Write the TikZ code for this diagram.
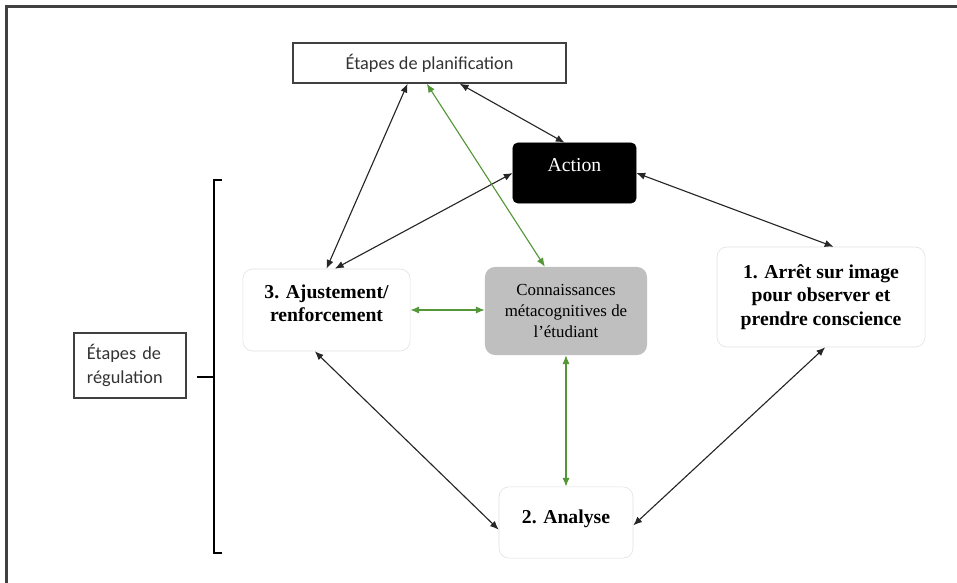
\documentclass[tikz,border=0pt]{standalone}
\usepackage{xcolor}
\usepackage{fontspec}
\setmainfont{Liberation Serif}
\newfontfamily\carlito{Carlito}
\usepackage{tikz}
\usetikzlibrary{arrows.meta, positioning, calc}

\definecolor{arrowgreen}{RGB}{84,150,56}
\definecolor{boxgray}{RGB}{191,191,191}
\definecolor{framegray}{RGB}{64,64,64}

\begin{document}
\begin{tikzpicture}[
    x=0.025cm, y=-0.025cm,
    plain/.style={rectangle, draw=framegray, line width=1pt, fill=white, text=black!80, font=\carlito\fontsize{13}{16}\selectfont},
    stepbox/.style={rectangle, draw=black!12, fill=white, rounded corners=0.25cm, align=center, font=\bfseries\fontsize{14}{16.5}\selectfont},
    actionbox/.style={rectangle, draw=black, fill=black, rounded corners=0.12cm, text=white, font=\fontsize{14}{17}\selectfont},
    knowbox/.style={rectangle, fill=boxgray, rounded corners=0.25cm, align=center, text=black, font=\fontsize{12}{15}\selectfont},
    arrow/.style={{Latex[length=2.2mm,width=1.8mm]}-{Latex[length=2.2mm,width=1.8mm]}, line width=0.8pt, black!85},
    greenarrow/.style={arrow, arrowgreen}
]
\useasboundingbox (0,0) rectangle (957,583);

% Frame
\draw[framegray, line width=1.5pt] (6.5,583) -- (6.5,6.5) -- (957,6.5);

% Planning
\node[plain, minimum width=6.83cm, minimum height=1cm] (planif) at (429.5,63) {Étapes de planification};
\node[actionbox, minimum width=3.08cm, minimum height=1.5cm, text height=0.35cm, text depth=0.4cm] (action) at (574.5,173) {Action};

% Regulation steps
\node[stepbox, minimum width=4.18cm, minimum height=2.05cm, text depth=0.35cm] (ajust) at (326.5,310) {3. Ajustement/\\renforcement};
\node[knowbox, minimum width=4.05cm, minimum height=2.2cm] (conn) at (566,311) {Connaissances\\métacognitives de\\l'étudiant};
\node[stepbox, minimum width=5.2cm, minimum height=2.5cm] (arret) at (821,297) {1. Arrêt sur image\\pour observer et\\prendre conscience};
\node[stepbox, minimum width=3.35cm, minimum height=1.78cm, text depth=0.3cm] (analyse) at (566,522.5) {2. Analyse};

% Regulation label and bracket
\node[plain, minimum width=2.8cm, minimum height=1.63cm, text width=2.15cm, align=left, font=\carlito\fontsize{13}{17.5}\selectfont] (regul) at (130,365.5) {Étapes de\\régulation};
\draw[line width=1.2pt] (222,180) -- (214,180) -- (214,553) -- (222,553);
\draw[line width=1.2pt] (197,377) -- (214,377);

% Arrows
\draw[arrow] ($(planif.south west)!0.61!(planif.south east)$) -- ($(action.north west)!0.42!(action.north east)$);
\draw[arrow] ($(planif.south west)!0.42!(planif.south east)$) -- ($(ajust.north west)!0.5!(ajust.north east)$);
\draw[arrow] (action.west) -- ($(ajust.north west)!0.55!(ajust.north east)$);
\draw[arrow] (action.east) -- ($(arret.north west)!0.56!(arret.north east)$);
\draw[arrow] ($(arret.south west)!0.52!(arret.south east)$) -- ($(analyse.north east)!0.54!(analyse.south east)$);
\draw[arrow] ($(ajust.south west)!0.43!(ajust.south east)$) -- ($(analyse.north west)!0.6!(analyse.south west)$);

\draw[greenarrow] ($(planif.south west)!0.49!(planif.south east)$) -- ($(conn.north west)!0.37!(conn.north east)$);
\draw[greenarrow] (ajust.east) -- (ajust.east -| conn.west);
\draw[greenarrow] (conn.south) -- (analyse.north);

\end{tikzpicture}
\end{document}
